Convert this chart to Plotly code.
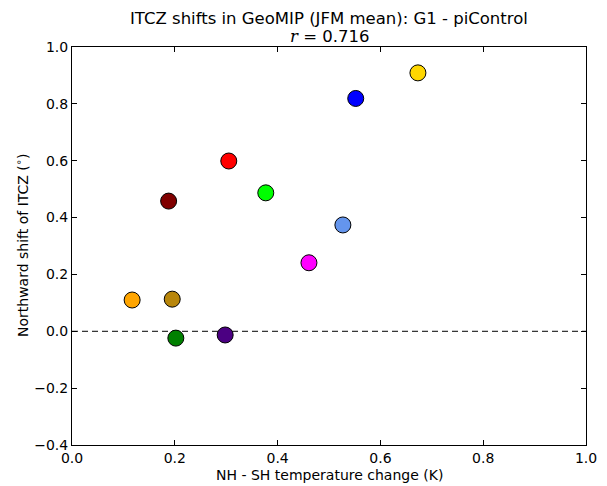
import plotly.graph_objects as go

models = ["m1", "m2", "m3", "m4", "m5", "m6", "m7", "m8", "m9", "m10", "m11"]
colors = ["orange", "darkgoldenrod", "green", "maroon", "red", "indigo",
          "lime", "magenta", "cornflowerblue", "blue", "gold"]
dT = [0.117, 0.195, 0.202, 0.188, 0.305, 0.298, 0.377, 0.461, 0.527, 0.552, 0.673]
shift = [0.110, 0.113, -0.024, 0.458, 0.599, -0.013, 0.487, 0.241, 0.374, 0.819, 0.909]

xticks = [0.0, 0.2, 0.4, 0.6, 0.8, 1.0]
yticks = [-0.4, -0.2, 0.0, 0.2, 0.4, 0.6, 0.8, 1.0]
ylabels = [("\u2212" if v < 0 else "") + f"{abs(v):.1f}" for v in yticks]

font = "DejaVu Sans"
fig = go.Figure()
fig.add_shape(type="line", x0=0, x1=1, y0=0, y1=0, xref="x", yref="y",
              line=dict(color="black", width=1, dash="6px,4px"), layer="below")
fig.add_trace(go.Scatter(x=dT, y=shift, mode="markers", text=models,
                         marker=dict(size=16, color=colors,
                                     line=dict(color="black", width=1)),
                         showlegend=False, cliponaxis=False))

axis_common = dict(showgrid=False, zeroline=False, showline=True, linecolor="black",
                   linewidth=1, mirror="ticks", ticks="inside", ticklen=5,
                   tickcolor="black", automargin=False,
                   tickfont=dict(family=font, size=14, color="black"))
fig.update_xaxes(range=[0, 1], tickvals=xticks, ticktext=[f"{v:.1f}" for v in xticks],
                 **axis_common)
fig.update_yaxes(range=[-0.4, 1.0], tickvals=yticks, ticktext=ylabels,
                 **axis_common)
fig.add_annotation(text="NH - SH temperature change (K)", x=0.5, y=0,
                   xref="paper", yref="paper", yanchor="middle", yshift=-30,
                   showarrow=False, font=dict(family=font, size=14, color="black"))
fig.add_annotation(text="Northward shift of ITCZ (<sup>\u2218</sup>)", x=0, y=0.5,
                   xref="paper", yref="paper", xanchor="center", yanchor="middle",
                   xshift=-50, textangle=-90,
                   showarrow=False, font=dict(family=font, size=14, color="black"))
fig.add_annotation(text="ITCZ shifts in GeoMIP (JFM mean): G1 - piControl",
                   x=0.5, y=1, xref="paper", yref="paper", yshift=29,
                   yanchor="middle", showarrow=False,
                   font=dict(family=font, size=16.5, color="black"))
fig.add_annotation(text="<span style='font-family:DejaVu Serif'><i>r</i></span> = 0.716",
                   x=0.5, y=1, xref="paper", yref="paper", yshift=11,
                   yanchor="middle", showarrow=False,
                   font=dict(family=font, size=16.5, color="black"))
fig.update_layout(width=599, height=478, margin=dict(l=64, r=21, t=39, b=41),
                  plot_bgcolor="white", paper_bgcolor="white")
fig.write_html("out.html")
